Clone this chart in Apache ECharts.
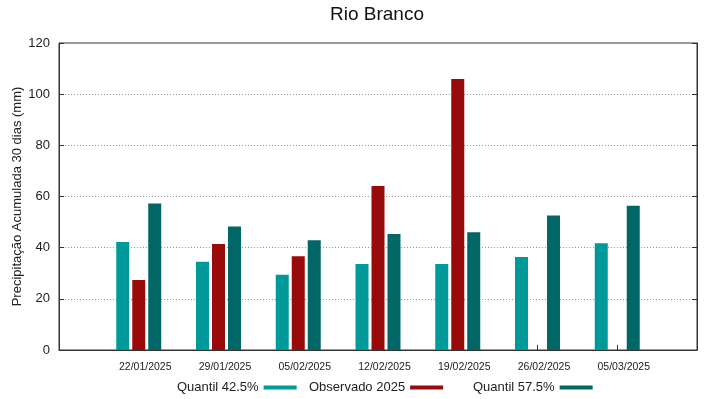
<!DOCTYPE html>
<html>
<head>
<meta charset="utf-8">
<script src="https://cdn.jsdelivr.net/npm/echarts@6/dist/echarts.min.js"></script>
<style>html,body{margin:0;padding:0;background:#fff;}#c{width:719px;height:399px;}</style>
</head>
<body>
<div id="c"></div>
<script>
const categories = ['22/01/2025', '29/01/2025', '05/02/2025', '12/02/2025', '19/02/2025', '26/02/2025', '05/03/2025'];
const quantil425 = [42.2, 34.5, 29.4, 33.6, 33.6, 36.4, 41.7];
const observado = [27.4, 41.4, 36.6, 64.1, 105.9, null, null];
const quantil575 = [57.3, 48.3, 42.9, 45.3, 46.0, 52.6, 56.4];
const seriesNames = ['Quantil 42.5%', 'Observado 2025', 'Quantil 57.5%'];
const colors = ['#009999', '#990b0b', '#006666'];

const FONT = 'Liberation Sans, Arial, sans-serif';
const toPoints = arr => arr.map((v, i) => [i + 1, v]);

const chart = echarts.init(document.getElementById('c'), null, {renderer: 'canvas'});
const legendLefts = [177, 309, 473];
const legends = seriesNames.map((n, i) => ({
  data: [n],
  left: legendLefts[i],
  top: 381,
  orient: 'horizontal',
  align: 'right',
  icon: 'rect',
  itemWidth: 33,
  itemHeight: 4,
  padding: 0,
  textStyle: {fontFamily: FONT, fontSize: 13, color: '#222'}
}));

chart.setOption({
  animation: false,
  backgroundColor: '#fff',
  textStyle: {fontFamily: FONT},
  title: {
    text: 'Rio Branco',
    left: 330,
    top: 5,
    padding: 0,
    textStyle: {fontFamily: FONT, fontSize: 19, fontWeight: 'normal', color: '#111'}
  },
  legend: legends,
  grid: {
    left: 59, top: 43, width: 638, height: 307,
    containLabel: false,
    outerBoundsMode: 'none',
    show: true, borderColor: '#333', borderWidth: 1, backgroundColor: 'transparent'
  },
  xAxis: {
    type: 'value',
    min: 0, max: 8, interval: 1,
    axisLine: {show: true, lineStyle: {color: '#333'}},
    axisTick: {show: true, inside: true, length: 5, lineStyle: {color: '#333'}},
    splitLine: {show: false},
    axisLabel: {
      fontFamily: FONT, fontSize: 10.5, color: '#222', margin: 12,
      padding: [0, 0, 0, 13],
      formatter: v => categories[v - 1] || ''
    }
  },
  yAxis: [{
    type: 'value',
    position: 'left',
    min: 0, max: 120, interval: 20,
    name: 'Precipitação Acumulada 30 dias (mm)',
    nameLocation: 'middle',
    nameRotate: 90,
    nameGap: 35,
    nameMoveOverlap: false,
    nameTextStyle: {fontFamily: FONT, fontSize: 13, color: '#222'},
    axisLine: {show: true, lineStyle: {color: '#333'}},
    axisTick: {show: true, inside: true, length: 5, lineStyle: {color: '#333'}},
    axisLabel: {fontFamily: FONT, fontSize: 13, color: '#222', margin: 9},
    splitLine: {show: true, lineStyle: {color: '#999', type: [1, 2], width: 1}}
  }, {
    type: 'value',
    position: 'right',
    min: 0, max: 120, interval: 20,
    axisLine: {show: true, lineStyle: {color: '#333'}},
    axisTick: {show: true, inside: true, length: 5, lineStyle: {color: '#333'}},
    axisLabel: {show: false},
    splitLine: {show: false}
  }],
  series: [
    {name: seriesNames[0], type: 'bar', data: toPoints(quantil425), barWidth: 13, barGap: '23%', itemStyle: {color: colors[0]}},
    {name: seriesNames[1], type: 'bar', data: toPoints(observado), barWidth: 13, barGap: '23%', itemStyle: {color: colors[1]}},
    {name: seriesNames[2], type: 'bar', data: toPoints(quantil575), barWidth: 13, barGap: '23%', itemStyle: {color: colors[2]}}
  ]
});
</script>
</body>
</html>
